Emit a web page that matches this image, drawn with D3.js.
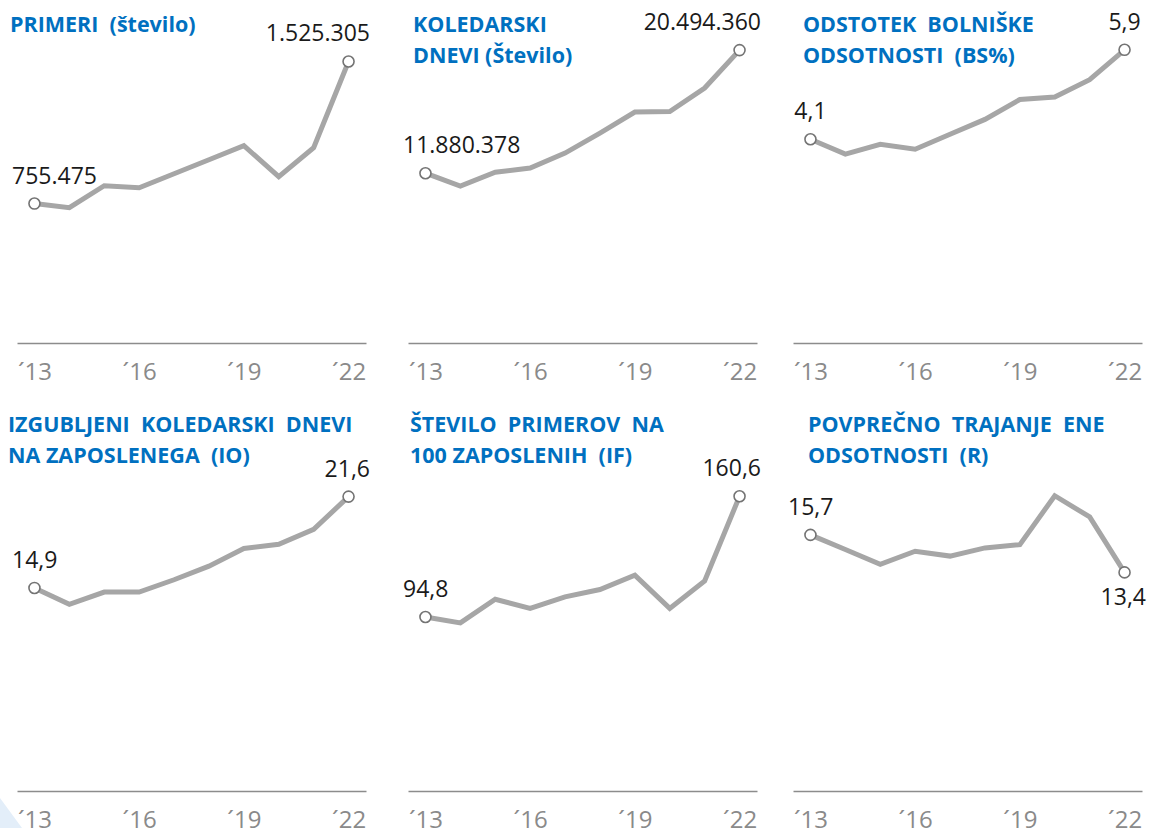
<!DOCTYPE html>
<html>
<head>
<meta charset="utf-8">
<script src="https://cdn.jsdelivr.net/npm/d3@7"></script>
<style>
  body { margin: 0; background: #fff; }
  svg { display: block; }
  .title { font-family: "Open Sans", sans-serif; font-weight: 700; font-size: 21.5px; fill: #0070c0; white-space: pre; }
  .value { font-family: "Open Sans", sans-serif; font-size: 23px; fill: #1a1a1a; }
  .tick text { font-family: "Open Sans", sans-serif; font-size: 24px; fill: #8a8a8a; }
</style>
</head>
<body>
<svg></svg>
<script>
const years = [2013, 2014, 2015, 2016, 2017, 2018, 2019, 2020, 2021, 2022];
const tickYears = [2013, 2016, 2019, 2022];

const primeri = [755475, 733000, 852000, 841000, 917000, 993000, 1069000, 901000, 1058000, 1525305];
const koledarskiDnevi = [11880378, 10980000, 11950000, 12240000, 13290000, 14690000, 16160000, 16200000, 17840000, 20494360];
const odstotekBS = [4.1, 3.8, 4.0, 3.9, 4.2, 4.5, 4.9, 4.95, 5.3, 5.9];
const izgubljeniIO = [14.9, 13.7, 14.6, 14.6, 15.5, 16.5, 17.8, 18.1, 19.2, 21.6];
const primeriIF = [94.8, 91.6, 104.5, 99.5, 105.8, 109.8, 117.6, 99.5, 114.5, 160.6];
const trajanjeR = [15.7, 14.8, 13.9, 14.7, 14.4, 14.9, 15.1, 18.1, 16.8, 13.4];

const titles = [
  ['PRIMERI  (število)'],
  ['KOLEDARSKI', 'DNEVI (Število)'],
  ['ODSTOTEK  BOLNIŠKE', 'ODSOTNOSTI  (BS%)'],
  ['IZGUBLJENI  KOLEDARSKI  DNEVI', 'NA ZAPOSLENEGA  (IO)'],
  ['ŠTEVILO  PRIMEROV  NA', '100 ZAPOSLENIH  (IF)'],
  ['POVPREČNO  TRAJANJE  ENE', 'ODSOTNOSTI  (R)']
];
const series = [primeri, koledarskiDnevi, odstotekBS, izgubljeniIO, primeriIF, trajanjeR];
const yMax = [1750000, 22600000, 6.5, 23.7, 176, 19.8];
const valueFormats = [',d', ',d', '.1f', '.1f', '.1f', '.1f'];

const locale = d3.formatLocale({decimal: ',', thousands: '.', grouping: [3], currency: ['', '€']});

const width = 1151, height = 828;
const svg = d3.select('svg').attr('width', width).attr('height', height);

// faint decoration bottom-left
svg.append('path')
  .attr('d', `M0,${height - 30} L22,${height} L0,${height} Z`)
  .attr('fill', '#e3eef9');

const cols = [[17, 366], [408, 757], [793, 1142]];
const titleX = [10, 413, 803, 8, 410, 808];
const rowAxisY = [343, 791];
const rowTitleY = [32, 432];
const plotHeight = 323;

series.forEach((data, i) => {
  const col = i % 3, row = Math.floor(i / 3);
  const [x0, x1] = cols[col];
  const axisY = rowAxisY[row];

  const x = d3.scalePoint().domain(years).range([x0, x1]).padding(0.5);
  const y = d3.scaleLinear().domain([0, yMax[i]]).range([axisY, axisY - plotHeight]);

  const g = svg.append('g');

  // title
  g.selectAll('.title').data(titles[i]).join('text')
    .attr('class', 'title')
    .attr('x', titleX[i])
    .attr('y', (d, k) => rowTitleY[row] + k * 31)
    .text(d => d);

  // axis
  const axis = g.append('g')
    .attr('transform', `translate(0,${axisY})`)
    .call(d3.axisBottom(x).tickValues(tickYears).tickSize(0).tickPadding(20)
      .tickFormat(d => '´' + String(d).slice(2)));
  axis.select('.domain').attr('stroke', '#8c8c8c').attr('stroke-width', 1.6);

  const line = d3.line().x((d, k) => x(years[k])).y(d => y(d));
  g.append('path')
    .attr('d', line(data))
    .attr('fill', 'none')
    .attr('stroke', '#a6a6a6')
    .attr('stroke-width', 5)
    .attr('stroke-linejoin', 'miter');

  const ends = [0, data.length - 1];
  g.selectAll('circle').data(ends).join('circle')
    .attr('cx', k => x(years[k]))
    .attr('cy', k => y(data[k]))
    .attr('r', 5.5)
    .attr('fill', '#fff')
    .attr('stroke', '#747474')
    .attr('stroke-width', 1.6);

  const fmt = locale.format(valueFormats[i]);
  ends.forEach(k => {
    const below = i === 5 && k === data.length - 1;
    const t = g.append('text')
      .attr('class', 'value')
      .attr('text-anchor', 'start')
      .attr('y', y(data[k]) + (below ? 33 : -20))
      .text(fmt(data[k]));
    const w = t.node().getComputedTextLength();
    let left = x(years[k]) - w / 2;
    left = Math.max(x0 - 5, Math.min(x1 + 4 - w, left));
    t.attr('x', left);
  });
});
</script>
</body>
</html>
